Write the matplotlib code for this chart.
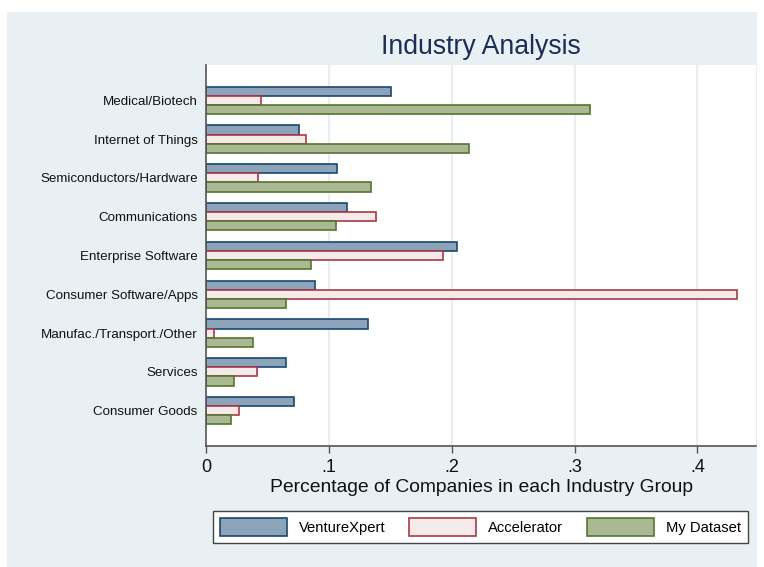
import matplotlib
matplotlib.use("Agg")
import matplotlib.pyplot as plt
from matplotlib.patches import Rectangle, Patch
import numpy as np

plt.rcParams['font.family'] = ['Liberation Sans', 'DejaVu Sans']

categories = ["Medical/Biotech", "Internet of Things", "Semiconductors/Hardware",
              "Communications", "Enterprise Software", "Consumer Software/Apps",
              "Manufac./Transport./Other", "Services", "Consumer Goods"]
venturexpert = [0.151, 0.0754, 0.1065, 0.1144, 0.2043, 0.0888, 0.1318, 0.0650, 0.0716]
accelerator = [0.0451, 0.0814, 0.0423, 0.1384, 0.1929, 0.4320, 0.0068, 0.0417, 0.0271]
my_dataset = [0.313, 0.214, 0.1341, 0.1062, 0.0853, 0.0655, 0.0385, 0.0227, 0.0207]
series_names = ["VentureXpert", "Accelerator", "My Dataset"]
xticks = [0, 0.1, 0.2, 0.3, 0.4]
xticklabels = ["0", ".1", ".2", ".3", ".4"]

W, H = 764, 567
fig = plt.figure(figsize=(W / 100, H / 100), dpi=100)
fig.patch.set_facecolor('white')
bg = '#e9f0f3'
fig.patches.append(Rectangle((7 / W, 0), (757 - 7) / W, (H - 12) / H,
                             transform=fig.transFigure, facecolor=bg,
                             edgecolor='none', zorder=-10))

left, right, top, bottom = 206, 755.7, 65, 446
ax = fig.add_axes([left / W, 1 - bottom / H, (right - left) / W, (bottom - top) / H])
ax.set_facecolor('white')

faces = ['#8da3ba', '#f4eaea', '#aab994']
edges = ['#1a476f', '#a83a45', '#55752f']
data = [venturexpert, accelerator, my_dataset]
h = 0.235
pos = np.arange(len(categories))
offsets = [-h, 0, h]
for vals, off, fc, ec in zip(data, offsets, faces, edges):
    ax.barh(pos + off, vals, height=h, color=fc, edgecolor=ec, linewidth=1.2, zorder=3)

ax.set_ylim(len(categories) - 1 + 0.911, -0.911)
ax.set_xlim(0, 0.4475)
ax.set_yticks(pos)
ax.set_yticklabels(categories, fontsize=9.6, color='#111111')
ax.tick_params(axis='y', length=0, pad=6)
ax.set_xticks(xticks)
ax.set_xticklabels(xticklabels, fontsize=13, color='#111111')
ax.tick_params(axis='x', length=5, width=1, color='#555555', pad=4)
for x in xticks[1:]:
    ax.axvline(x, color='#e3ebef', linewidth=1.2, zorder=1)
for s in ['top', 'right']:
    ax.spines[s].set_visible(False)
for s in ['left', 'bottom']:
    ax.spines[s].set_color('#555555')
    ax.spines[s].set_linewidth(1.2)
    ax.spines[s].set_zorder(5)

fig.text(480.5 / W, 1 - 47 / H, "Industry Analysis", fontsize=19.2, color='#1c2d56',
         ha='center', va='center')
fig.text(481.5 / W, 1 - 488 / H, "Percentage of Companies in each Industry Group",
         fontsize=13.9, color='#111111', ha='center', va='center')

handles = [Patch(facecolor=fc, edgecolor=ec, linewidth=1.2, label=n)
           for n, fc, ec in zip(series_names, faces, edges)]
leg = fig.legend(handles=handles, loc='center', bbox_to_anchor=(480.5 / W, 1 - 527 / H),
                 ncol=3, fontsize=10.6, handlelength=4.55, handleheight=1.43,
                 handletextpad=0.8, columnspacing=1.63, borderpad=0.5,
                 fancybox=False, framealpha=1, edgecolor='#444444', borderaxespad=0)
leg.get_frame().set_linewidth(1.0)

fig.savefig('out.png', dpi=100, facecolor='white')
